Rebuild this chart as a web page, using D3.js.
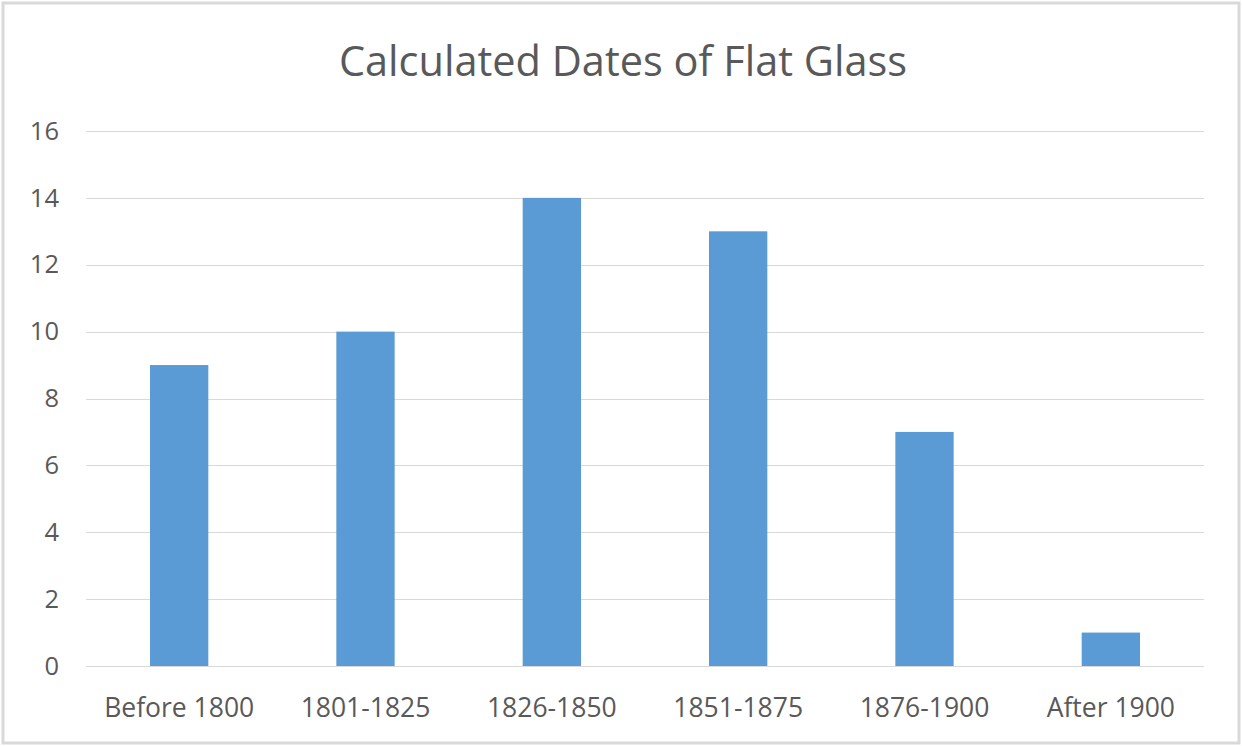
<!DOCTYPE html>
<html>
<head>
<meta charset="utf-8">
<script src="https://cdn.jsdelivr.net/npm/d3@7"></script>
<style>
  body { margin: 0; background: #fff; }
  svg { display: block; }
  text { font-family: "Open Sans", sans-serif; }
</style>
</head>
<body>
<svg id="chart" width="1242" height="746"></svg>
<script>
// data
var categories = ["Before 1800", "1801-1825", "1826-1850", "1851-1875", "1876-1900", "After 1900"];
var counts = [9, 10, 14, 13, 7, 1];
var yTicks = [0, 2, 4, 6, 8, 10, 12, 14, 16];

var W = 1242, H = 746;
var margin = { top: 131, right: 38, bottom: 80, left: 86 };

var svg = d3.select("#chart");

// outer frame
svg.append("rect")
    .attr("x", 3).attr("y", 3)
    .attr("width", W - 6).attr("height", H - 6)
    .attr("fill", "#fff")
    .attr("stroke", "#d9d9d9")
    .attr("stroke-width", 3);

var x = d3.scaleBand()
    .domain(categories)
    .range([margin.left, W - margin.right])
    .paddingInner(0.687)
    .paddingOuter(0.3435);

var y = d3.scaleLinear()
    .domain([0, 16])
    .range([H - margin.bottom, margin.top]);

// gridlines
svg.append("g")
    .selectAll("line")
    .data(yTicks)
    .enter().append("line")
    .attr("x1", margin.left)
    .attr("x2", W - margin.right)
    .attr("y1", function (d) { return Math.round(y(d)) + 0.5; })
    .attr("y2", function (d) { return Math.round(y(d)) + 0.5; })
    .attr("stroke", "#d9d9d9")
    .attr("stroke-width", 1);

// bars
svg.append("g")
    .selectAll("rect")
    .data(counts)
    .enter().append("rect")
    .attr("x", function (d, i) { return x(categories[i]); })
    .attr("width", x.bandwidth())
    .attr("y", function (d) { return y(d); })
    .attr("height", function (d) { return y(0) - y(d); })
    .attr("fill", "#5b9bd5");

// y axis labels
var yAxis = d3.axisLeft(y).tickValues(yTicks).tickSize(0).tickPadding(27);
var gy = svg.append("g")
    .attr("transform", "translate(" + margin.left + ",0)")
    .call(yAxis);
gy.select(".domain").remove();
gy.selectAll("text")
    .attr("fill", "#595959")
    .style("font-family", "'Open Sans', sans-serif")
    .style("font-size", "25.5px");

// x axis labels
var xAxis = d3.axisBottom(x).tickSize(0).tickPadding(32);
var gx = svg.append("g")
    .attr("transform", "translate(0," + y(0) + ")")
    .call(xAxis);
gx.select(".domain").remove();
gx.selectAll("text")
    .attr("fill", "#595959")
    .style("font-family", "'Open Sans', sans-serif")
    .style("font-size", "26.5px");

// title
svg.append("text")
    .attr("x", 623)
    .attr("y", 76)
    .attr("text-anchor", "middle")
    .attr("fill", "#595959")
    .style("font-size", "41.5px")
    .text("Calculated Dates of Flat Glass");
</script>
</body>
</html>
